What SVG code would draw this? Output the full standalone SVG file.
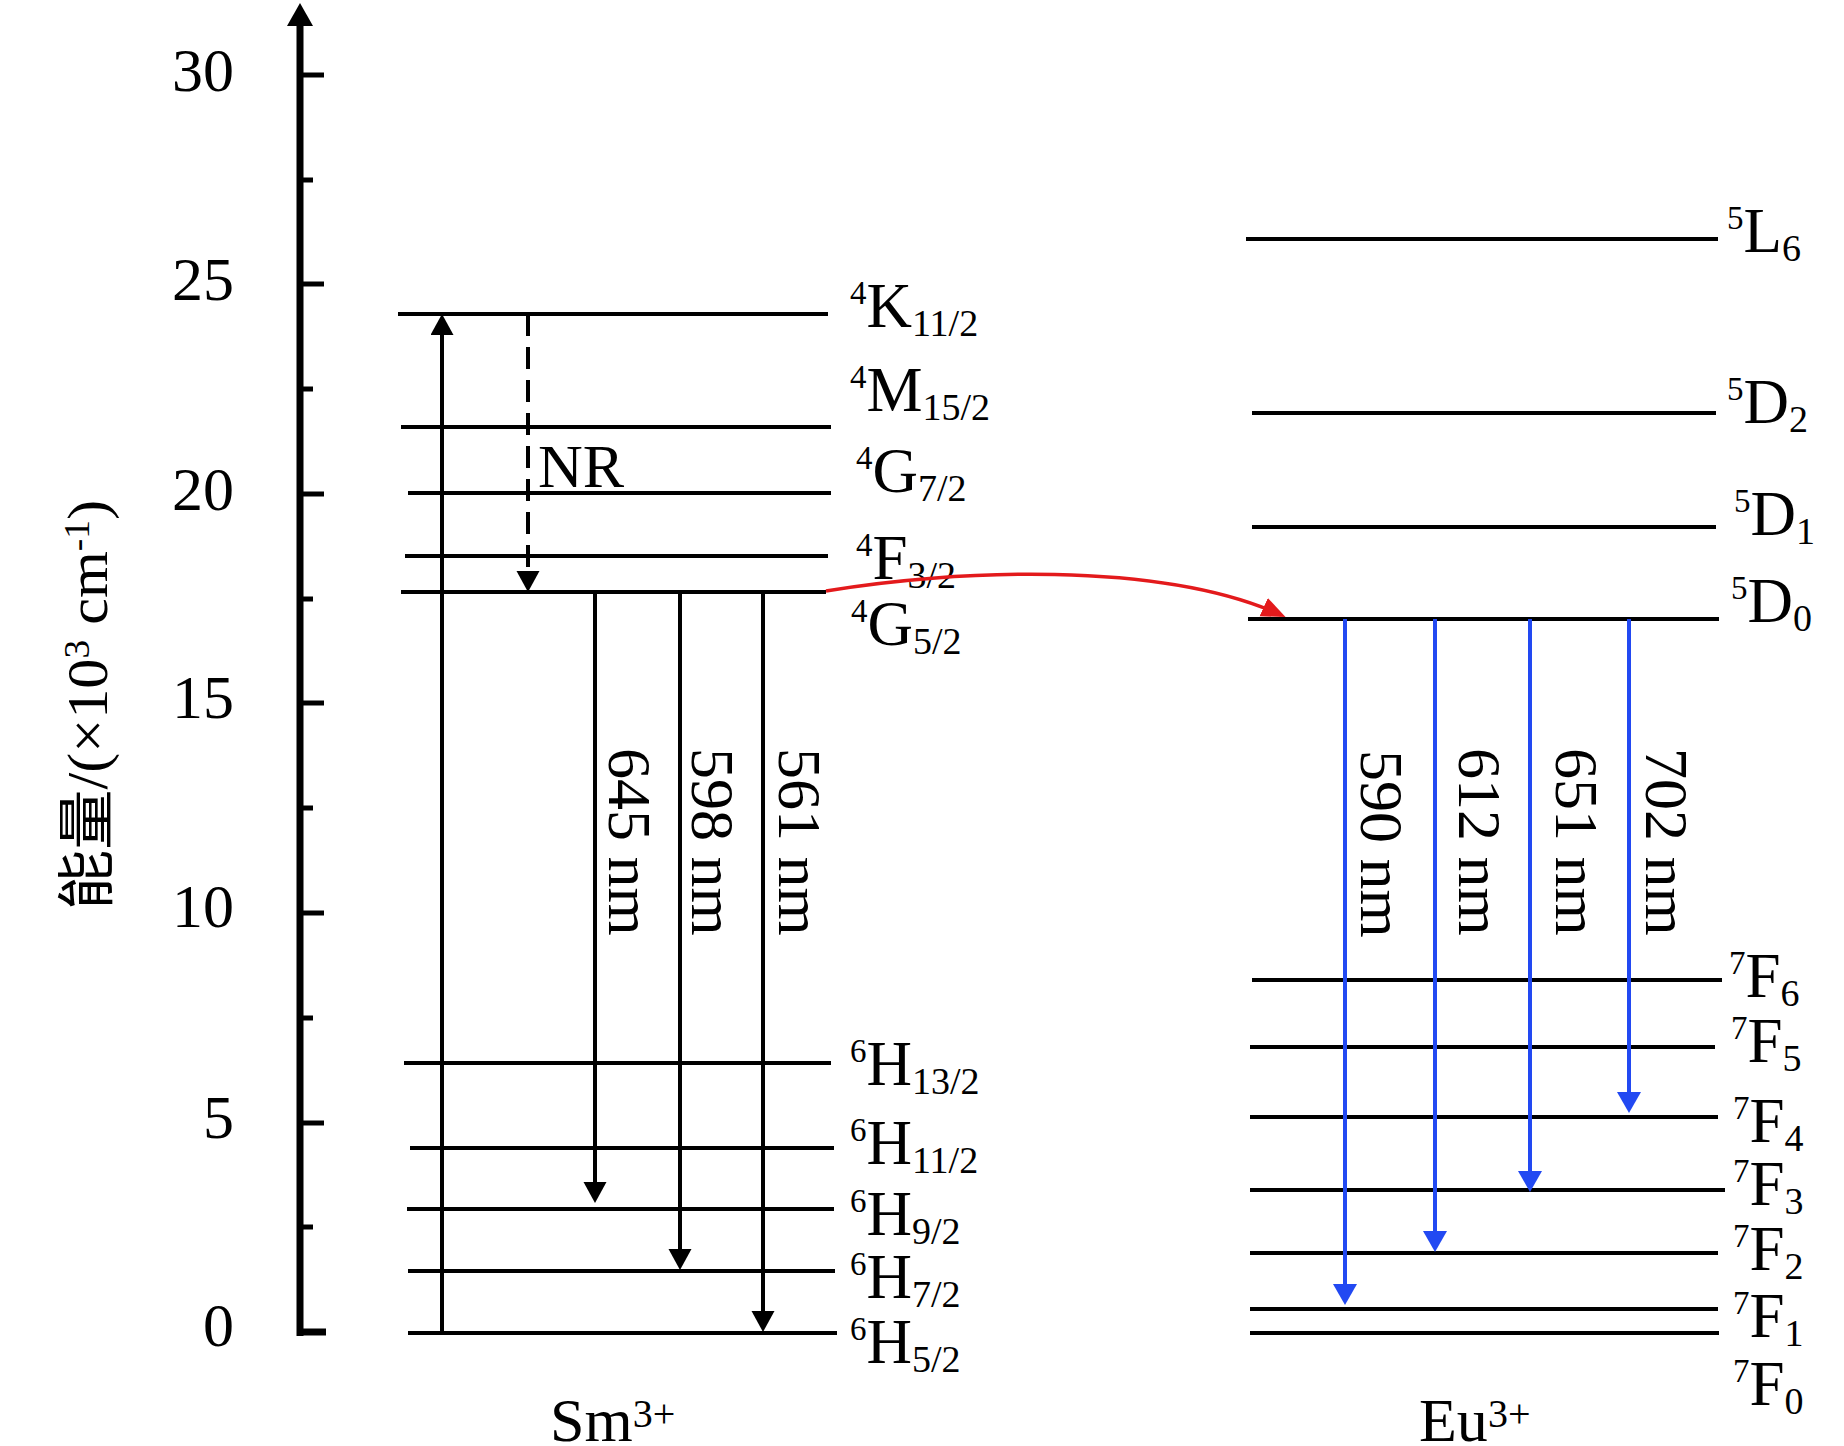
<svg xmlns="http://www.w3.org/2000/svg" width="1844" height="1446" viewBox="0 0 1844 1446">
<style>
.lv{stroke:#000;stroke-width:3.8;fill:none}
.ar{stroke:#000;stroke-width:4;fill:none;marker-end:url(#ah)}
.bl{stroke:#2249f2;stroke-width:4;fill:none;marker-end:url(#ahb)}
.t{font-family:"Liberation Serif","Times New Roman","Noto Sans CJK SC",serif;fill:#000}
.lab{font-size:63px}
.sp{font-size:33px}
.sb{font-size:38px}
.tk{font-size:62px;text-anchor:end}
.wl{font-size:62px}
.tick{stroke:#000;stroke-width:5}
</style>
<defs>
<marker id="ah" markerUnits="userSpaceOnUse" markerWidth="24" markerHeight="24" refX="16" refY="11.5" orient="auto"><path d="M0,0 L21,11.5 L0,23 z" fill="#000"/></marker>
<marker id="ahb" markerUnits="userSpaceOnUse" markerWidth="24" markerHeight="26" refX="16" refY="12" orient="auto"><path d="M0,0 L21,12 L0,24 z" fill="#2249f2"/></marker>
<marker id="ahr" markerUnits="userSpaceOnUse" markerWidth="26" markerHeight="22" refX="19" refY="10" orient="auto"><path d="M0,0 L24,10 L0,20 z" fill="#e31a1c"/></marker>
</defs>
<rect width="1844" height="1446" fill="#fff"/>

<g id="axis">
<line x1="300" y1="1336" x2="300" y2="22" stroke="#000" stroke-width="7"/>
<path d="M300,3 L287,26 L313,26 z" fill="#000"/>
<line class="tick" x1="300" y1="75" x2="324" y2="75"/>
<line class="tick" x1="300" y1="180" x2="313" y2="180"/>
<line class="tick" x1="300" y1="284" x2="324" y2="284"/>
<line class="tick" x1="300" y1="389" x2="313" y2="389"/>
<line class="tick" x1="300" y1="494" x2="324" y2="494"/>
<line class="tick" x1="300" y1="599" x2="313" y2="599"/>
<line class="tick" x1="300" y1="703" x2="324" y2="703"/>
<line class="tick" x1="300" y1="808" x2="313" y2="808"/>
<line class="tick" x1="300" y1="913" x2="324" y2="913"/>
<line class="tick" x1="300" y1="1018" x2="313" y2="1018"/>
<line class="tick" x1="300" y1="1123" x2="324" y2="1123"/>
<line class="tick" x1="300" y1="1227" x2="313" y2="1227"/>
<line x1="297" y1="1332" x2="326" y2="1332" stroke="#000" stroke-width="7"/>
<text class="t tk" x="234" y="91">30</text>
<text class="t tk" x="234" y="300">25</text>
<text class="t tk" x="234" y="510">20</text>
<text class="t tk" x="234" y="718">15</text>
<text class="t tk" x="234" y="927">10</text>
<text class="t tk" x="234" y="1138">5</text>
<text class="t tk" x="234" y="1346">0</text>
<text class="t" font-size="58" transform="translate(107,910) rotate(-90)" textLength="410" lengthAdjust="spacingAndGlyphs">能量/(×10<tspan font-size="36" dy="-18">3</tspan><tspan dy="18"> cm</tspan><tspan font-size="36" dy="-18">-1</tspan><tspan dy="18">)</tspan></text>
</g>

<g id="sm-levels">
<g id="Sm-4K11_2"><line class="lv" x1="398" y1="314" x2="828" y2="314"/><text class="t lab" x="850" y="327"><tspan class="sp" dy="-23">4</tspan><tspan dy="23">K</tspan><tspan class="sb" dy="9">11/2</tspan></text></g>
<g id="Sm-4M15_2"><line class="lv" x1="401" y1="427" x2="831" y2="427"/><text class="t lab" x="850" y="411"><tspan class="sp" dy="-23">4</tspan><tspan dy="23">M</tspan><tspan class="sb" dy="9">15/2</tspan></text></g>
<g id="Sm-4G7_2"><line class="lv" x1="408" y1="493" x2="831" y2="493"/><text class="t lab" x="856" y="492"><tspan class="sp" dy="-23">4</tspan><tspan dy="23">G</tspan><tspan class="sb" dy="9">7/2</tspan></text></g>
<g id="Sm-4F3_2"><line class="lv" x1="405" y1="556" x2="828" y2="556"/><text class="t lab" x="856" y="579"><tspan class="sp" dy="-23">4</tspan><tspan dy="23">F</tspan><tspan class="sb" dy="9">3/2</tspan></text></g>
<g id="Sm-4G5_2"><line class="lv" x1="401" y1="592" x2="826" y2="592"/><text class="t lab" x="851" y="645"><tspan class="sp" dy="-23">4</tspan><tspan dy="23">G</tspan><tspan class="sb" dy="9">5/2</tspan></text></g>
<g id="Sm-6H13_2"><line class="lv" x1="404" y1="1063" x2="831" y2="1063"/><text class="t lab" x="850" y="1085"><tspan class="sp" dy="-23">6</tspan><tspan dy="23">H</tspan><tspan class="sb" dy="9">13/2</tspan></text></g>
<g id="Sm-6H11_2"><line class="lv" x1="410" y1="1148" x2="834" y2="1148"/><text class="t lab" x="850" y="1164"><tspan class="sp" dy="-23">6</tspan><tspan dy="23">H</tspan><tspan class="sb" dy="9">11/2</tspan></text></g>
<g id="Sm-6H9_2"><line class="lv" x1="407" y1="1209" x2="834" y2="1209"/><text class="t lab" x="850" y="1235"><tspan class="sp" dy="-23">6</tspan><tspan dy="23">H</tspan><tspan class="sb" dy="9">9/2</tspan></text></g>
<g id="Sm-6H7_2"><line class="lv" x1="408" y1="1271" x2="835" y2="1271"/><text class="t lab" x="850" y="1298"><tspan class="sp" dy="-23">6</tspan><tspan dy="23">H</tspan><tspan class="sb" dy="9">7/2</tspan></text></g>
<g id="Sm-6H5_2"><line class="lv" x1="408" y1="1333" x2="837" y2="1333"/><text class="t lab" x="850" y="1363"><tspan class="sp" dy="-23">6</tspan><tspan dy="23">H</tspan><tspan class="sb" dy="9">5/2</tspan></text></g>
<text id="Sm-title" class="t" font-size="62" x="550" y="1441">Sm<tspan font-size="40" dy="-14">3+</tspan></text>
</g>

<g id="eu-levels">
<g id="Eu-5L6"><line class="lv" x1="1246" y1="239" x2="1718" y2="239"/><text class="t lab" x="1727" y="252"><tspan class="sp" dy="-23">5</tspan><tspan dy="23">L</tspan><tspan class="sb" dy="9">6</tspan></text></g>
<g id="Eu-5D2"><line class="lv" x1="1252" y1="413" x2="1716" y2="413"/><text class="t lab" x="1727" y="423"><tspan class="sp" dy="-23">5</tspan><tspan dy="23">D</tspan><tspan class="sb" dy="9">2</tspan></text></g>
<g id="Eu-5D1"><line class="lv" x1="1252" y1="527" x2="1716" y2="527"/><text class="t lab" x="1734" y="535"><tspan class="sp" dy="-23">5</tspan><tspan dy="23">D</tspan><tspan class="sb" dy="9">1</tspan></text></g>
<g id="Eu-5D0"><line class="lv" x1="1248" y1="619" x2="1719" y2="619"/><text class="t lab" x="1731" y="622"><tspan class="sp" dy="-23">5</tspan><tspan dy="23">D</tspan><tspan class="sb" dy="9">0</tspan></text></g>
<g id="Eu-7F6"><line class="lv" x1="1252" y1="980" x2="1722" y2="980"/><text class="t lab" x="1729" y="997"><tspan class="sp" dy="-23">7</tspan><tspan dy="23">F</tspan><tspan class="sb" dy="9">6</tspan></text></g>
<g id="Eu-7F5"><line class="lv" x1="1250" y1="1047" x2="1715" y2="1047"/><text class="t lab" x="1731" y="1062"><tspan class="sp" dy="-23">7</tspan><tspan dy="23">F</tspan><tspan class="sb" dy="9">5</tspan></text></g>
<g id="Eu-7F4"><line class="lv" x1="1250" y1="1117" x2="1718" y2="1117"/><text class="t lab" x="1733" y="1142"><tspan class="sp" dy="-23">7</tspan><tspan dy="23">F</tspan><tspan class="sb" dy="9">4</tspan></text></g>
<g id="Eu-7F3"><line class="lv" x1="1250" y1="1190" x2="1725" y2="1190"/><text class="t lab" x="1733" y="1205"><tspan class="sp" dy="-23">7</tspan><tspan dy="23">F</tspan><tspan class="sb" dy="9">3</tspan></text></g>
<g id="Eu-7F2"><line class="lv" x1="1250" y1="1253" x2="1718" y2="1253"/><text class="t lab" x="1733" y="1270"><tspan class="sp" dy="-23">7</tspan><tspan dy="23">F</tspan><tspan class="sb" dy="9">2</tspan></text></g>
<g id="Eu-7F1"><line class="lv" x1="1250" y1="1309" x2="1718" y2="1309"/><text class="t lab" x="1733" y="1337"><tspan class="sp" dy="-23">7</tspan><tspan dy="23">F</tspan><tspan class="sb" dy="9">1</tspan></text></g>
<g id="Eu-7F0"><line class="lv" x1="1250" y1="1333" x2="1719" y2="1333"/><text class="t lab" x="1733" y="1405"><tspan class="sp" dy="-23">7</tspan><tspan dy="23">F</tspan><tspan class="sb" dy="9">0</tspan></text></g>
<text id="Eu-title" class="t" font-size="62" x="1419" y="1441">Eu<tspan font-size="40" dy="-14">3+</tspan></text>
</g>

<g id="connectors">
<line class="ar" x1="442" y1="1333" x2="442" y2="319"/>
<line x1="528" y1="314" x2="528" y2="587" stroke="#000" stroke-width="4" stroke-dasharray="22 11" marker-end="url(#ah)"/>
<line class="ar" x1="595" y1="592" x2="595" y2="1198"/>
<line class="ar" x1="680" y1="592" x2="680" y2="1265"/>
<line class="ar" x1="763" y1="592" x2="763" y2="1327"/>
<path d="M826,591 C950,570 1160,560 1281,615" fill="none" stroke="#e31a1c" stroke-width="3.5" marker-end="url(#ahr)"/>
<line class="bl" x1="1345" y1="619" x2="1345" y2="1300"/>
<line class="bl" x1="1435" y1="619" x2="1435" y2="1247"/>
<line class="bl" x1="1530" y1="619" x2="1530" y2="1187"/>
<line class="bl" x1="1629" y1="619" x2="1629" y2="1108"/>
</g>

<g id="labels">
<text class="t" font-size="62" x="538" y="487">NR</text>
<text class="t wl" transform="translate(609,748) rotate(90)">645 nm</text>
<text class="t wl" transform="translate(692,748) rotate(90)">598 nm</text>
<text class="t wl" transform="translate(779,748) rotate(90)">561 nm</text>
<text class="t wl" transform="translate(1361,750) rotate(90)">590 nm</text>
<text class="t wl" transform="translate(1459,748) rotate(90)">612 nm</text>
<text class="t wl" transform="translate(1556,748) rotate(90)">651 nm</text>
<text class="t wl" transform="translate(1646,748) rotate(90)">702 nm</text>
</g>
</svg>
